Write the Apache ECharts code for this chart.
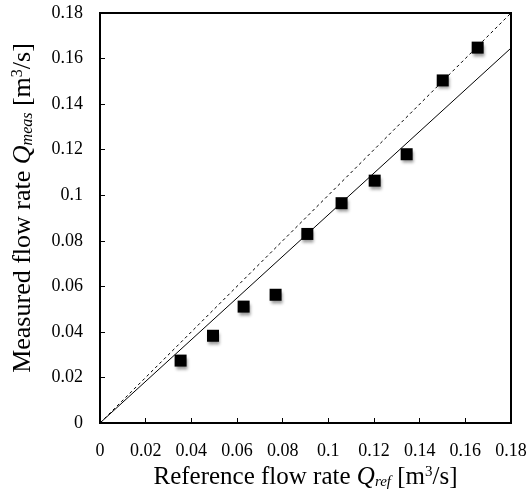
<!DOCTYPE html>
<html>
<head>
<meta charset="utf-8">
<script src="https://cdn.jsdelivr.net/npm/echarts@6/dist/echarts.min.js"></script>
<style>
  html, body { margin: 0; padding: 0; background: #fff; }
  #chart { width: 527px; height: 491px; }
</style>
</head>
<body>
<div id="chart"></div>
<script>
// Reference vs. measured flow rate [m3/s]
const qRef  = [0.0353, 0.0495, 0.0629, 0.0769, 0.0908, 0.1058, 0.1203, 0.1343, 0.1501, 0.1654];
const qMeas = [0.0274, 0.0383, 0.0511, 0.0563, 0.0830, 0.0965, 0.1064, 0.1180, 0.1504, 0.1648];

// Linear fit through origin and the 1:1 line
const fitX = [0, 0.18];
const fitY = [0, 0.1646];
const unityX = [0, 0.18];
const unityY = [0, 0.18];

const axisTicks = [0, 0.02, 0.04, 0.06, 0.08, 0.1, 0.12, 0.14, 0.16, 0.18];

const FONT = '"Liberation Serif", "Times New Roman", serif';

function nameRich(size) {
  const small = Math.round(size * 0.6);
  return {
    q:   { fontFamily: FONT, fontSize: size, fontStyle: 'italic', color: '#000' },
    sub: { fontFamily: FONT, fontSize: small, fontStyle: 'italic', color: '#000', verticalAlign: 'bottom', lineHeight: small },
    sup: { fontFamily: FONT, fontSize: small, color: '#000', verticalAlign: 'top', lineHeight: small },
    t:   { fontFamily: FONT, fontSize: size, color: '#000' }
  };
}

function axisBase(name, gap, size) {
  return {
    type: 'value',
    min: axisTicks[0],
    max: axisTicks[axisTicks.length - 1],
    interval: 0.02,
    name: name,
    nameLocation: 'middle',
    nameGap: gap,
    nameTextStyle: { fontFamily: FONT, fontSize: size, color: '#000', rich: nameRich(size) },
    axisLine: { show: true, lineStyle: { color: '#000', width: 2 } },
    axisTick: { show: true, inside: true, length: 5, lineStyle: { color: '#000', width: 1 } },
    axisLabel: {
      fontFamily: FONT, fontSize: 18, color: '#000',
      formatter: v => String(parseFloat(v.toFixed(2)))
    },
    splitLine: { show: false }
  };
}

const xAxis = axisBase('{t|Reference flow rate }{q|Q}{sub|ref}{t| [m}{sup|3}{t|/s]}', 38, 25);
xAxis.axisLabel.margin = 19;
const yAxis = axisBase('{t|Measured flow rate }{q|Q}{sub|meas}{t| [m}{sup|3}{t|/s]}', 64, 26);
yAxis.axisLabel.margin = 17;
yAxis.nameTextStyle.padding = [0, 0, 0, 20];

const chart = echarts.init(document.getElementById('chart'), null, { renderer: 'canvas' });
chart.setOption({
  animation: false,
  backgroundColor: '#fff',
  grid: {
    left: 100, right: 16, top: 13, bottom: 68,
    containLabel: false,
    outerBoundsMode: 'none',
    show: true, borderColor: '#000', borderWidth: 2, backgroundColor: 'transparent'
  },
  xAxis: xAxis,
  yAxis: yAxis,
  series: [
    {
      type: 'line',
      data: unityX.map((x, i) => [x, unityY[i]]),
      symbol: 'none',
      lineStyle: { color: '#000', width: 1, type: [3, 3] },
      z: 2
    },
    {
      type: 'line',
      data: fitX.map((x, i) => [x, fitY[i]]),
      symbol: 'none',
      lineStyle: { color: '#000', width: 1 },
      z: 2
    },
    {
      type: 'scatter',
      data: qRef.map((x, i) => [x, qMeas[i]]),
      symbol: 'rect',
      symbolSize: 12,
      itemStyle: {
        color: '#000',
        opacity: 1,
        shadowColor: 'rgba(0,0,0,0.4)',
        shadowBlur: 3,
        shadowOffsetX: 1,
        shadowOffsetY: 3
      },
      z: 3
    }
  ]
});
</script>
</body>
</html>
